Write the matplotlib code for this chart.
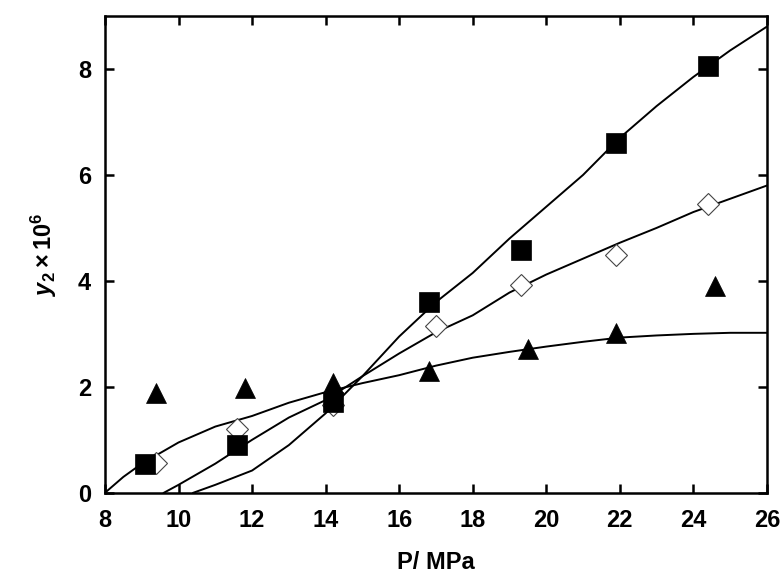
#!/usr/bin/env python3
"""Solubility y2 vs pressure: experimental points and model curves"""

import numpy as np
import matplotlib.pyplot as plt

plt.rcParams['font.family'] = 'Liberation Sans'
plt.rcParams['font.weight'] = 'bold'
plt.rcParams['mathtext.fontset'] = 'custom'
plt.rcParams['mathtext.rm'] = 'Liberation Sans:bold'
plt.rcParams['mathtext.bf'] = 'Liberation Sans:bold'
plt.rcParams['mathtext.it'] = 'Liberation Sans:bold:italic'

# experimental points
sq_p = [9.1, 11.6, 14.2, 16.8, 19.3, 21.9, 24.4]
sq_y = [0.55, 0.90, 1.71, 3.60, 4.59, 6.61, 8.05]

dm_p = [9.4, 11.6, 14.2, 17.0, 19.3, 21.9, 24.4]
dm_y = [0.57, 1.21, 1.65, 3.15, 3.92, 4.49, 5.46]

tr_p = [9.4, 11.8, 14.2, 16.8, 19.5, 21.9, 24.6]
tr_y = [1.88, 1.97, 2.08, 2.30, 2.72, 3.01, 3.90]

# model curves
sq_fit_p = [10.4, 11.0, 12.0, 13.0, 14.0, 15.0, 16.0, 17.0, 18.0, 19.0, 20.0, 21.0, 22.0, 23.0, 24.0, 25.0, 26.0]
sq_fit_y = [0.0, 0.15, 0.42, 0.90, 1.50, 2.20, 2.95, 3.60, 4.15, 4.80, 5.40, 6.00, 6.70, 7.30, 7.85, 8.35, 8.80]

dm_fit_p = [9.6, 10.0, 11.0, 12.0, 13.0, 14.0, 15.0, 16.0, 17.0, 18.0, 19.0, 20.0, 21.0, 22.0, 23.0, 24.0, 25.0, 26.0]
dm_fit_y = [0.0, 0.15, 0.55, 1.00, 1.42, 1.75, 2.20, 2.63, 3.03, 3.35, 3.78, 4.12, 4.42, 4.72, 5.00, 5.30, 5.55, 5.80]

tr_fit_p = [8.0, 8.5, 9.0, 10.0, 11.0, 12.0, 13.0, 14.0, 15.0, 16.0, 17.0, 18.0, 19.0, 20.0, 21.0, 22.0, 23.0, 24.0, 25.0, 26.0]
tr_fit_y = [0.0, 0.30, 0.55, 0.95, 1.25, 1.45, 1.70, 1.90, 2.07, 2.22, 2.40, 2.55, 2.66, 2.76, 2.85, 2.93, 2.97, 3.00, 3.02, 3.02]

x_ticks = np.arange(8, 27, 2)
y_ticks = np.arange(0, 9, 2)


def main():
    fig = plt.figure(figsize=(7.8, 5.73), dpi=100)
    ax = fig.add_axes([0.1346, 0.140, 0.8486, 0.832])

    for xs, ys in [(sq_fit_p, sq_fit_y), (dm_fit_p, dm_fit_y), (tr_fit_p, tr_fit_y)]:
        ax.plot(xs, ys, color='black', linewidth=1.4, zorder=2)

    ax.plot(dm_p, dm_y, linestyle='none', marker='D', markersize=11.7,
            markerfacecolor='white', markeredgecolor='#444444', markeredgewidth=0.8, zorder=3)
    ax.plot(sq_p, sq_y, linestyle='none', marker='s', markersize=13.7,
            markerfacecolor='black', markeredgecolor='black', markeredgewidth=0.5, zorder=4)
    ax.plot(tr_p, tr_y, linestyle='none', marker='^', markersize=14.5,
            markerfacecolor='black', markeredgecolor='black', markeredgewidth=0.5, zorder=4)

    ax.set_xlim(8, 26)
    ax.set_ylim(0, 9)
    ax.set_xticks(x_ticks)
    ax.set_yticks(y_ticks)
    ax.tick_params(direction='in', length=6.5, width=1.8, top=True, right=True,
                   labelsize=17, pad=12)
    ax.tick_params(axis='y', pad=10)
    for lab in ax.get_xticklabels() + ax.get_yticklabels():
        lab.set_fontweight('bold')

    for spine in ax.spines.values():
        spine.set_linewidth(1.8)

    ax.set_xlabel('P/ MPa', fontsize=17, fontweight='bold')
    ax.set_ylabel(r'$y_2\times10^6$', fontsize=17)
    ax.xaxis.set_label_coords(0.5, -0.122)
    ax.yaxis.set_label_coords(-0.07, 0.5)

    fig.savefig('out.png', dpi=100, facecolor='white')
    plt.close(fig)


if __name__ == "__main__":
    main()
